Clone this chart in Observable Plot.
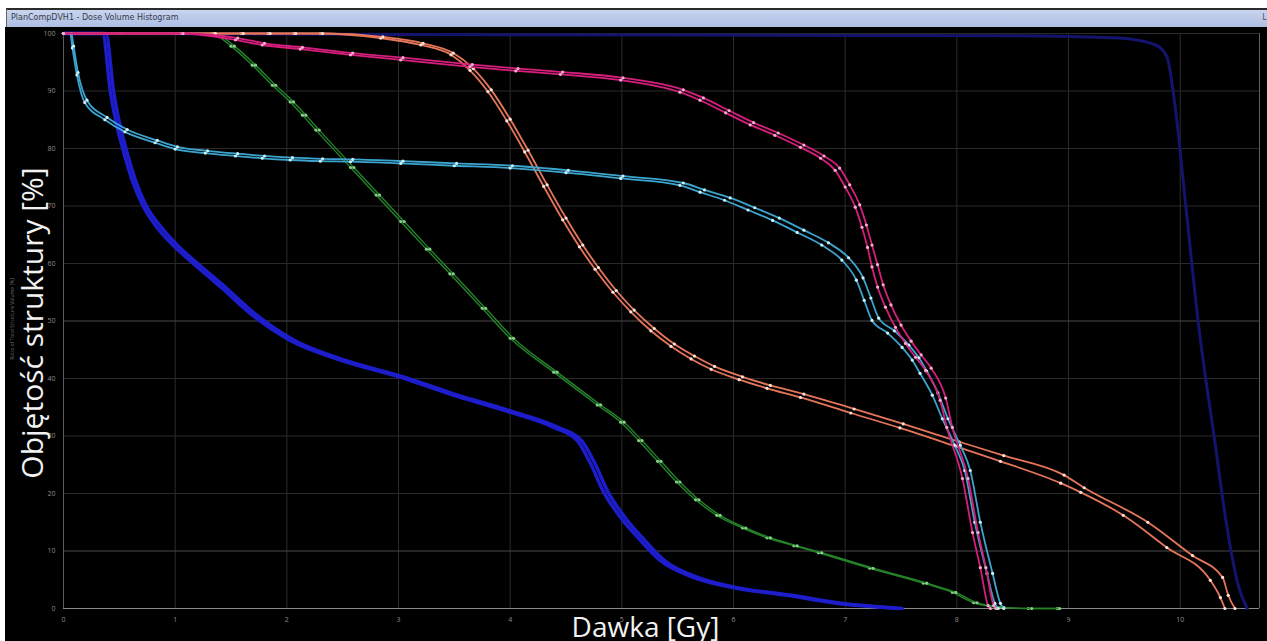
<!DOCTYPE html>
<html>
<head>
<meta charset="utf-8">
<script src="https://cdn.jsdelivr.net/npm/d3@7"></script>
<script src="https://cdn.jsdelivr.net/npm/@observablehq/plot@0.6"></script>
<style>
  html, body { margin: 0; padding: 0; background: #fff; }
  #win { position: relative; width: 1267px; height: 641px; overflow: hidden; background: #fff; }
  #bar {
    position: absolute; left: 6px; top: 8px; width: 1261px; height: 19px;
    box-sizing: border-box; border-top: 2px solid #2b2b2b; border-left: 1px solid #666;
    background: linear-gradient(#c8d5ef, #adbee3);
    font: 8px "DejaVu Sans", sans-serif; color: #3a3a4a; line-height: 16px; padding-left: 4px;
    white-space: nowrap;
  }
  #bar .right { position: absolute; right: -2px; top: 0; color: #556; }
  #chart { position: absolute; left: 5px; top: 27px; }
</style>
</head>
<body>
<div id="win">
  <div id="bar">PlanCompDVH1 - Dose Volume Histogram<span class="right">Li</span></div>
  <div id="chart"></div>
</div>
<script>
// Axis ticks
const doseTicks = [0, 1, 2, 3, 4, 5, 6, 7, 8, 9, 10];
const volumeTicks = [0, 10, 20, 30, 40, 50, 60, 70, 80, 90, 100];

// Dose–volume curves: [dose Gy, volume %], two plans per structure
const cyanPlanA = [[0,100],[0.06,100],[0.08,97.5],[0.12,92.8],[0.19,88.0],[0.37,85.0],[0.55,82.9],[0.82,81.0],[1.00,79.9],[1.27,79.2],[1.54,78.7],[1.78,78.3],[2.03,78.0],[2.30,77.8],[2.57,77.7],[3.02,77.4],[3.50,77.0],[4.00,76.6],[4.50,75.8],[4.99,74.8],[5.52,73.6],[5.70,72.4],[5.92,71.0],[6.13,69.3],[6.35,67.5],[6.57,65.4],[6.79,63.2],[6.97,60.6],[7.10,57.1],[7.17,53.6],[7.24,50.1],[7.38,47.9],[7.51,45.4],[7.60,43.2],[7.67,40.9],[7.78,37.1],[7.87,33.0],[7.98,28.4],[8.07,24.0],[8.16,15.0],[8.27,6.1],[8.34,0.9],[8.37,0]];
const cyanPlanB = [[0,100],[0.07,100],[0.09,97.8],[0.13,93.2],[0.21,88.4],[0.39,85.4],[0.57,83.3],[0.84,81.4],[1.02,80.3],[1.29,79.6],[1.56,79.1],[1.80,78.7],[2.05,78.4],[2.32,78.2],[2.59,78.1],[3.04,77.8],[3.52,77.4],[4.02,77.0],[4.52,76.2],[5.01,75.2],[5.55,74.0],[5.74,72.8],[5.97,71.4],[6.19,69.7],[6.41,67.9],[6.63,65.8],[6.85,63.6],[7.03,61.0],[7.16,57.5],[7.23,54.0],[7.30,50.5],[7.44,48.3],[7.57,45.8],[7.66,43.6],[7.73,41.3],[7.83,37.5],[7.92,33.0],[8.03,28.4],[8.12,24.0],[8.21,15.0],[8.32,6.1],[8.39,0.9],[8.42,0]];

const magentaPlanA = [[0,100],[1.05,100],[1.54,98.9],[1.78,98.0],[2.12,97.3],[2.57,96.3],[3.02,95.4],[3.64,94.2],[4.05,93.5],[4.45,92.9],[4.99,91.9],[5.52,89.8],[5.70,88.4],[5.93,86.2],[6.15,84.1],[6.37,82.3],[6.60,80.2],[6.78,78.3],[6.91,76.2],[7.00,73.3],[7.09,69.8],[7.15,66.3],[7.20,62.8],[7.24,59.4],[7.29,55.9],[7.36,52.4],[7.45,48.9],[7.54,46.1],[7.63,43.7],[7.72,41.4],[7.85,36.2],[7.91,31.5],[8.05,22.6],[8.14,13.2],[8.21,7.1],[8.28,0.5],[8.30,0]];
const magentaPlanB = [[0,100],[1.07,100],[1.56,99.2],[1.80,98.3],[2.14,97.6],[2.59,96.6],[3.04,95.8],[3.66,94.6],[4.07,93.9],[4.47,93.3],[5.01,92.3],[5.55,90.2],[5.73,88.8],[5.96,86.6],[6.18,84.5],[6.40,82.7],[6.63,80.6],[6.81,78.7],[6.95,76.6],[7.04,73.7],[7.13,70.2],[7.19,66.7],[7.24,63.2],[7.29,59.8],[7.34,56.3],[7.41,52.8],[7.50,49.3],[7.59,46.5],[7.68,44.1],[7.77,41.8],[7.90,36.6],[7.96,31.5],[8.10,22.6],[8.19,13.2],[8.26,7.1],[8.33,0.5],[8.35,0]];

const orangePlanA = [[0,100],[1.34,100],[1.59,100],[1.83,100],[2.06,100],[2.30,100],[2.84,99.2],[3.20,98.0],[3.47,96.3],[3.64,93.6],[3.80,89.9],[3.97,84.8],[4.13,79.4],[4.30,73.4],[4.47,67.6],[4.62,62.9],[4.76,59.0],[4.92,55.0],[5.08,51.6],[5.26,48.3],[5.44,45.6],[5.62,43.4],[5.80,41.6],[6.05,39.8],[6.30,38.3],[6.60,36.7],[7.05,34.0],[7.49,31.4],[7.99,28.2],[8.39,25.6],[8.93,21.8],[9.11,20.2],[9.49,16.2],[9.88,10.6],[10.27,4.9],[10.36,1.9],[10.40,0]];
const orangePlanB = [[0,100],[1.36,100],[1.61,100],[1.85,100],[2.08,100],[2.32,100],[2.86,99.4],[3.22,98.3],[3.49,96.6],[3.67,93.9],[3.83,90.2],[4.00,85.1],[4.16,79.7],[4.33,73.7],[4.50,67.9],[4.65,63.2],[4.79,59.3],[4.95,55.3],[5.11,51.9],[5.29,48.7],[5.47,46.0],[5.65,43.9],[5.83,42.1],[6.08,40.3],[6.33,38.8],[6.63,37.3],[7.08,34.7],[7.52,32.1],[8.02,29.0],[8.42,26.6],[8.96,23.2],[9.14,21.0],[9.71,15.0],[10.11,9.2],[10.38,5.4],[10.43,2.3],[10.49,0]];

const greenPlanA = [[0,100],[0.50,100],[1.00,100],[1.32,100],[1.50,97.8],[1.69,94.5],[1.87,91.0],[2.03,88.1],[2.14,85.8],[2.26,83.2],[2.57,76.7],[2.80,71.9],[3.02,67.3],[3.25,62.5],[3.46,58.2],[3.75,52.2],[4.00,47.0],[4.39,41.1],[4.78,35.4],[4.99,32.4],[5.15,29.2],[5.32,25.6],[5.49,22.0],[5.66,18.9],[5.85,16.2],[6.08,14.0],[6.30,12.3],[6.54,10.9],[6.76,9.7],[7.22,7.0],[7.70,4.4],[7.96,2.8],[8.15,1.0],[8.39,0.2],[8.64,0],[8.90,0]];
const greenPlanB = [[0,100],[0.52,100],[1.02,100],[1.35,100],[1.53,97.8],[1.72,94.5],[1.90,91.0],[2.06,88.1],[2.17,85.8],[2.29,83.2],[2.60,76.7],[2.83,71.9],[3.05,67.3],[3.28,62.5],[3.49,58.2],[3.78,52.2],[4.03,47.0],[4.42,41.1],[4.81,35.4],[5.02,32.4],[5.18,29.2],[5.35,25.6],[5.52,22.0],[5.69,18.9],[5.88,16.2],[6.11,14.0],[6.33,12.3],[6.57,10.9],[6.79,9.7],[7.25,7.0],[7.73,4.4],[7.99,2.8],[8.18,1.0],[8.42,0.2],[8.67,0],[8.92,0]];

const bluePlanA = [[0,100],[0.35,100],[0.42,89.8],[0.47,84.6],[0.53,80.0],[0.62,74.2],[0.71,70.1],[0.82,66.7],[0.98,63.2],[1.18,59.7],[1.42,55.7],[1.66,51.5],[2.03,46.6],[2.48,43.2],[3.02,40.2],[3.49,37.1],[3.94,34.5],[4.39,31.5],[4.60,29.2],[4.72,25.2],[4.83,20.5],[4.99,15.8],[5.14,12.4],[5.34,8.4],[5.64,5.4],[6.03,3.5],[6.48,2.3],[6.89,1.0],[7.47,0]];
const bluePlanB = [[0,100],[0.38,100],[0.45,89.8],[0.50,84.6],[0.56,80.0],[0.65,74.2],[0.74,70.1],[0.86,66.7],[1.02,63.2],[1.22,59.7],[1.46,55.7],[1.70,51.5],[2.07,46.6],[2.52,43.2],[3.06,40.2],[3.53,37.1],[3.98,34.5],[4.43,31.5],[4.64,29.2],[4.76,25.2],[4.87,20.5],[5.03,15.8],[5.18,12.4],[5.38,8.4],[5.68,5.4],[6.07,3.5],[6.52,2.3],[6.93,1.0],[7.51,0]];

const navyPlan = [[0,100],[4.00,99.8],[8.50,99.6],[9.45,99.2],[9.78,98.0],[9.88,96.0],[9.95,88.0],[10.05,70.0],[10.16,50.0],[10.31,29.0],[10.42,14.0],[10.52,4.0],[10.60,0]];

const seriesStyle = [
  {data: navyPlan, stroke: "#14146e", width: 3, dots: null},
  {data: bluePlanA, stroke: "#1d1dcc", width: 3.4, dots: null},
  {data: bluePlanB, stroke: "#1d1dcc", width: 3.4, dots: null},
  {data: greenPlanA, stroke: "#25832a", width: 1.4, dots: "#86cf88"},
  {data: greenPlanB, stroke: "#25832a", width: 1.4, dots: "#86cf88"},
  {data: orangePlanA, stroke: "#e6765a", width: 1.8, dots: "#ffe2d8"},
  {data: orangePlanB, stroke: "#e6765a", width: 1.8, dots: "#ffe2d8"},
  {data: cyanPlanA, stroke: "#3ba4cf", width: 1.8, dots: "#cbf0f9"},
  {data: cyanPlanB, stroke: "#3ba4cf", width: 1.8, dots: "#cbf0f9"},
  {data: magentaPlanA, stroke: "#d61e7d", width: 1.8, dots: "#f7accf"},
  {data: magentaPlanB, stroke: "#d61e7d", width: 1.8, dots: "#f7accf"}
];

const curveMarks = seriesStyle.flatMap(s => {
  const marks = [Plot.line(s.data, {x: d => d[0], y: d => d[1], stroke: s.stroke, strokeWidth: s.width, curve: "monotone-x"})];
  if (s.dots) marks.push(Plot.dot(s.data, {x: d => d[0], y: d => d[1], r: 1.6, fill: s.dots, stroke: "none"}));
  return marks;
});

const chart = Plot.plot({
  width: 1262,
  height: 614,
  marginLeft: 58,
  marginRight: 8,
  marginTop: 6,
  marginBottom: 33,
  style: {background: "#000", color: "#8c8c8c", fontFamily: "'Open Sans', sans-serif", overflow: "visible"},
  x: {domain: [0, 10.71]},
  y: {domain: [0, 100]},
  marks: [
    Plot.ruleX(doseTicks.slice(1), {stroke: "#2c2c2c", strokeWidth: 1}),
    Plot.ruleY(volumeTicks.slice(1), {stroke: d => (d === 10 || d === 50) ? "#4a4a4a" : "#2a2a2a", strokeWidth: 1}),
    Plot.ruleX([0], {stroke: "#5a5a5a"}),
    Plot.ruleX([10.71], {stroke: "#5e5e5e"}),
    Plot.ruleY([0], {stroke: "#8a8a8a"}),
    Plot.axisX(doseTicks, {tickSize: 0, tickPadding: 9, fontSize: 7, fill: "#8c8c8c", label: null}),
    Plot.axisY(volumeTicks, {tickSize: 0, tickPadding: 8, fontSize: 7, fill: "#8c8c8c", label: null}),
    ...curveMarks,
    Plot.text(["Ratio of Total Structure Volume [%]"], {frameAnchor: "left", textAnchor: "middle", rotate: -90, dx: -51, dy: -2, fontSize: 5, fill: "#6a6a6a"}),
    Plot.text(["Objętość struktury [%]"], {frameAnchor: "left", textAnchor: "middle", rotate: -90, dx: -30, dy: 2, fontSize: 30, fill: "#f2f2f2"}),
    Plot.text(["Dawka [Gy]"], {frameAnchor: "bottom", textAnchor: "middle", dx: -16, dy: 20, fontSize: 28, fill: "#f2f2f2", lineAnchor: "middle"})
  ]
});

document.getElementById("chart").appendChild(chart);
</script>
</body>
</html>
